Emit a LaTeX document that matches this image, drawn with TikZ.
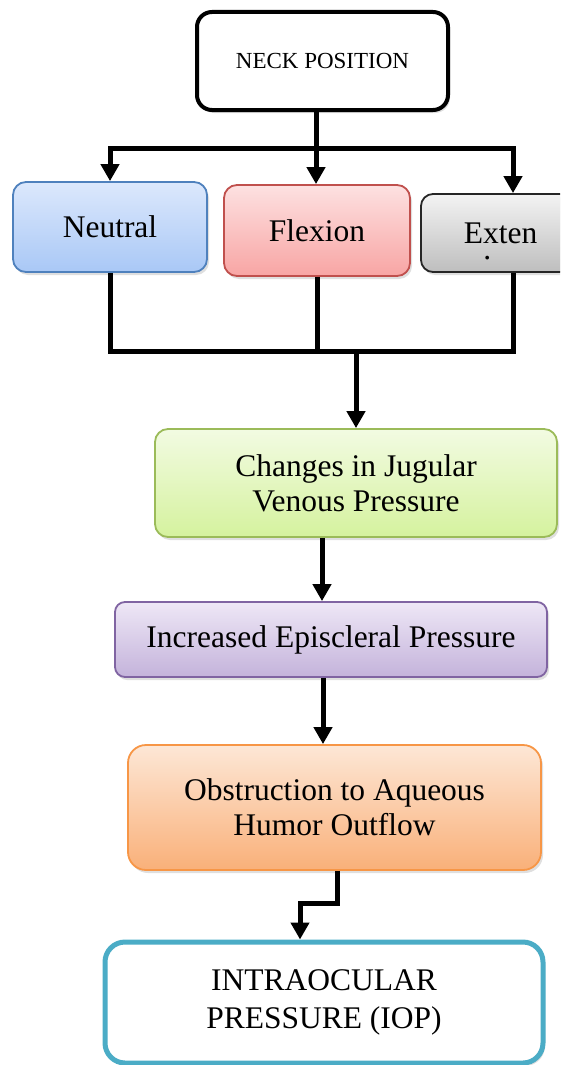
\documentclass[tikz,border=0pt]{standalone}
\usepackage{fontspec}
\setmainfont{Liberation Serif}
\usetikzlibrary{arrows.meta,shadows}

\definecolor{neutraltop}{HTML}{DCE8FC}
\definecolor{neutralbot}{HTML}{A9C8F6}
\definecolor{neutralline}{HTML}{4F81BD}
\definecolor{flexiontop}{HTML}{FDE1E1}
\definecolor{flexionbot}{HTML}{F8A5A4}
\definecolor{flexionline}{HTML}{C0504D}
\definecolor{extentop}{HTML}{F3F3F3}
\definecolor{extenbot}{HTML}{BEBEBE}
\definecolor{jvptop}{HTML}{F2FBE2}
\definecolor{jvpbot}{HTML}{D5F29E}
\definecolor{jvpline}{HTML}{9BBB59}
\definecolor{epitop}{HTML}{EEE7F6}
\definecolor{epibot}{HTML}{C4B3DB}
\definecolor{epiline}{HTML}{8064A2}
\definecolor{aqutop}{HTML}{FDE7D6}
\definecolor{aqubot}{HTML}{F9B079}
\definecolor{aquline}{HTML}{F79646}
\definecolor{iopline}{HTML}{4BACC6}

\tikzset{
  stage/.style={draw, rounded corners=13pt, line width=1.8pt, align=center,
    inner sep=0pt, font=\fontsize{31.5}{35}\selectfont,
    drop shadow={opacity=0.25, shadow xshift=2pt, shadow yshift=-3pt}},
  link/.style={line width=5pt},
  conn/.style={link, -{Triangle[width=18pt,length=17pt]}},
}

\begin{document}
\begin{tikzpicture}[x=1pt, y=-1pt]
  \useasboundingbox (0,0) rectangle (560,1065);
  \clip (0,0) rectangle (560,1065);

  % boxes
  \node[stage, draw=black, line width=4pt, rounded corners=15pt, fill=white,
    minimum width=251pt, minimum height=98pt,
    font=\fontsize{23}{27}\selectfont] (neck) at (322.5,61) {NECK POSITION};
  \node[stage, draw=neutralline, top color=neutraltop, bottom color=neutralbot,
    minimum width=194pt, minimum height=90pt] (neutral) at (110,227) {Neutral};
  \node[stage, draw=flexionline, top color=flexiontop, bottom color=flexionbot,
    minimum width=186pt, minimum height=91pt] (flexion) at (317,230.5) {Flexion};
  \node[stage, draw=black!85, top color=extentop, bottom color=extenbot,
    rounded corners=12pt, minimum width=159pt, minimum height=78pt]
    (exten) at (500.5,233)
    {Exten\smash{\llap{\raisebox{-16pt}{.}\hspace{46pt}}}};
  \node[stage, draw=jvpline, top color=jvptop, bottom color=jvpbot,
    minimum width=402pt, minimum height=108pt] (jvp) at (356,483)
    {Changes in Jugular\\Venous Pressure};
  \node[stage, draw=epiline, top color=epitop, bottom color=epibot,
    rounded corners=10pt, minimum width=432pt, minimum height=75pt]
    (epi) at (331,639.5) {Increased Episcleral Pressure};
  \node[stage, draw=aquline, top color=aqutop, bottom color=aqubot,
    rounded corners=18pt, minimum width=413pt, minimum height=125pt]
    (aqu) at (334.5,807.5) {Obstruction to Aqueous\\Humor Outflow};
  \node[stage, draw=iopline, line width=5pt, fill=white, rounded corners=20pt,
    minimum width=438pt, minimum height=121pt,
    font=\fontsize{31.5}{38}\selectfont] (iop) at (324,1002.5)
    {INTRAOCULAR\\PRESSURE (IOP)};

  % split into the three positions
  \coordinate (split) at (316,148);
  \draw[link] (neck.south -| split) -- (split);
  \draw[conn] (split) -| (neutral.north);
  \draw[conn] (split) -- (flexion.north -| split);
  \draw[conn] (split) -| ([xshift=12.5pt]exten.north);

  % merge
  \coordinate (merge) at (356,351);
  \draw[link] (neutral.south) |- (merge);
  \draw[link] (flexion.south) -- (flexion.south |- merge);
  \draw[link] ([xshift=12.5pt]exten.south) |- (merge);
  \draw[conn] (merge) -- (jvp.north);

  % chain
  \coordinate (epiin) at ([xshift=-9pt]epi.north);
  \draw[conn] (epiin |- jvp.south) -- (epiin);
  \coordinate (aquin) at ([xshift=-11.5pt]aqu.north);
  \draw[conn] (aquin |- epi.south) -- (aquin);
  \coordinate (aquout) at ([xshift=2.5pt]aqu.south);
  \coordinate (iopin) at ([xshift=-24pt]iop.north);
  \draw[conn] (aquout) -- ++(0,33) -| (iopin);
\end{tikzpicture}
\end{document}
